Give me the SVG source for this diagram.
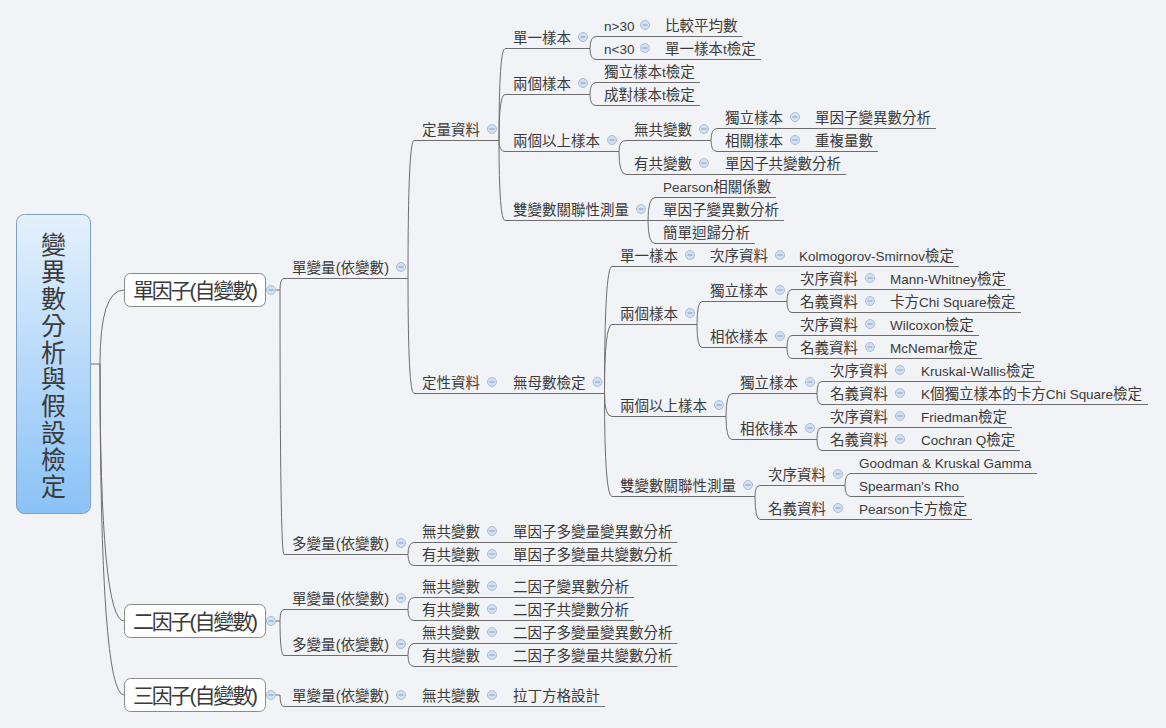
<svg xmlns="http://www.w3.org/2000/svg" xmlns:xlink="http://www.w3.org/1999/xlink" width="1166" height="728" viewBox="0 0 1166 728">
<style>
.t{font-family:"Liberation Sans","Noto Sans CJK TC",sans-serif;font-size:14.5px;fill:#3a3a3a}
.l{font-size:13.5px}
.b{font-family:"Liberation Sans","Noto Sans CJK TC",sans-serif;font-size:21px;fill:#3a3a3a}
.r{font-family:"Noto Sans CJK TC",sans-serif;font-size:25px;fill:#3a3a3a;writing-mode:vertical-rl;letter-spacing:1.9px}
.u{stroke:#6e6e6e;stroke-width:1;fill:none}
#connectors path{stroke:#6e6e6e;stroke-width:1;fill:none}
.box{fill:#fff;stroke:#8a8a8a;stroke-width:1}
</style>
<defs>
<linearGradient id="rg" x1="0" y1="0" x2="0" y2="1">
<stop offset="0" stop-color="#e4f1fd"/>
<stop offset="1" stop-color="#8ac2f6"/>
</linearGradient>
<g id="col"><circle r="4.5" fill="#d3e0f0" stroke="#a6bedb" stroke-width="1"/><path d="M-2.5 0H2.5" stroke="#7f9cc4" stroke-width="1"/></g>
</defs>
<rect width="1166" height="728" fill="#f2f3f7"/>

<g id="connectors">
<path d="M91 364H100"/>
<path d="M100 364Q100 290 124 290"/>
<path d="M100 364Q100 621 124 621"/>
<path d="M100 364Q100 695 124 695"/>
<path d="M275.5 290H280"/>
<path d="M280 290Q280 278.5 284 278.5"/>
<path d="M280 290Q280 554.5 284 554.5"/>
<path d="M275.5 621H280"/>
<path d="M280 621Q280 609.5 284 609.5"/>
<path d="M280 621Q280 655.5 284 655.5"/>
<path d="M275.5 695H280Q280 706.5 284 706.5"/>
<path d="M408 278.5Q408 140.5 414 140.5"/>
<path d="M408 278.5Q408 393.5 414 393.5"/>
<path d="M499 140.5Q499 48.5 505 48.5"/>
<path d="M499 140.5Q499 94.5 505 94.5"/>
<path d="M499 140.5Q499 151.5 505 151.5"/>
<path d="M499 140.5Q499 220.5 505 220.5"/>
<path d="M590 48.5Q590 36.5 596 36.5"/>
<path d="M590 48.5Q590 59.5 596 59.5"/>
<path d="M652 36.5H657"/>
<path d="M652 59.5H657"/>
<path d="M590 94.5Q590 82.5 596 82.5"/>
<path d="M590 94.5Q590 105.5 596 105.5"/>
<path d="M619 151.5Q619 140.5 626 140.5"/>
<path d="M619 151.5Q619 174.5 626 174.5"/>
<path d="M711 140.5Q711 128.5 717 128.5"/>
<path d="M711 140.5Q711 151.5 717 151.5"/>
<path d="M802 128.5H807"/>
<path d="M802 151.5H807"/>
<path d="M711 174.5H717"/>
<path d="M648 220.5Q648 197.5 655 197.5"/>
<path d="M648 220.5H655"/>
<path d="M648 220.5Q648 243.5 655 243.5"/>
<path d="M499 393.5H505"/>
<path d="M604.5 393.5Q604.5 266.5 612 266.5"/>
<path d="M604.5 393.5Q604.5 324.5 612 324.5"/>
<path d="M604.5 393.5Q604.5 416.5 612 416.5"/>
<path d="M604.5 393.5Q604.5 496.5 612 496.5"/>
<path d="M697 266.5H702"/>
<path d="M787 266.5H791"/>
<path d="M697 324.5Q697 301.5 702 301.5"/>
<path d="M697 324.5Q697 347.5 702 347.5"/>
<path d="M787 301.5Q787 289.5 792 289.5"/>
<path d="M787 301.5Q787 312.5 792 312.5"/>
<path d="M877 289.5H882"/>
<path d="M877 312.5H882"/>
<path d="M787 347.5Q787 335.5 792 335.5"/>
<path d="M787 347.5Q787 358.5 792 358.5"/>
<path d="M877 335.5H882"/>
<path d="M877 358.5H882"/>
<path d="M726 416.5Q726 393.5 732 393.5"/>
<path d="M726 416.5Q726 439.5 732 439.5"/>
<path d="M817 393.5Q817 381.5 822 381.5"/>
<path d="M817 393.5Q817 404.5 822 404.5"/>
<path d="M907 381.5H913"/>
<path d="M907 404.5H913"/>
<path d="M817 439.5Q817 427.5 822 427.5"/>
<path d="M817 439.5Q817 450.5 822 450.5"/>
<path d="M907 427.5H913"/>
<path d="M907 450.5H913"/>
<path d="M755 496.5Q755 485.5 760 485.5"/>
<path d="M755 496.5Q755 519.5 760 519.5"/>
<path d="M845 485.5Q845 473.5 851 473.5"/>
<path d="M845 485.5Q845 496.5 851 496.5"/>
<path d="M845 519.5H851"/>
<path d="M408 554.5Q408 542.5 414 542.5"/>
<path d="M408 554.5Q408 565.5 414 565.5"/>
<path d="M499 542.5H505"/>
<path d="M499 565.5H505"/>
<path d="M408 609.5Q408 597.5 414 597.5"/>
<path d="M408 609.5Q408 620.5 414 620.5"/>
<path d="M499 597.5H505"/>
<path d="M499 620.5H505"/>
<path d="M408 655.5Q408 643.5 414 643.5"/>
<path d="M408 655.5Q408 666.5 414 666.5"/>
<path d="M499 643.5H505"/>
<path d="M499 666.5H505"/>
<path d="M408 706.5H414"/>
<path d="M499 706.5H505"/>
</g>

<g id="n-root">
<rect x="16.5" y="214.5" width="74" height="299" rx="8" fill="url(#rg)" stroke="#7d9fc4"/>
<text class="r" x="53.5" y="232">變異數分析與假設檢定</text>
</g>

<g id="n-f1"><rect class="box" x="124.5" y="273.5" width="141" height="33" rx="6"/><text class="b" x="133" y="297.5" textLength="125">單因子(自變數)</text><use href="#col" x="271" y="290"/></g>
<g id="n-f2"><rect class="box" x="124.5" y="604.5" width="141" height="33" rx="6"/><text class="b" x="133" y="628.5" textLength="125">二因子(自變數)</text><use href="#col" x="271" y="621"/></g>
<g id="n-f3"><rect class="box" x="124.5" y="678.5" width="141" height="33" rx="6"/><text class="b" x="133" y="702.5" textLength="125">三因子(自變數)</text><use href="#col" x="271" y="695"/></g>

<g id="n-f1-uni"><path class="u" d="M284 278.5H408"/><text class="t" x="292" y="272.5" textLength="97">單變量(依變數)</text><use href="#col" x="401" y="267"/></g>
<g id="n-quant"><path class="u" d="M414 140.5H499"/><text class="t" x="422" y="134.5">定量資料</text><use href="#col" x="492" y="129"/></g>
<g id="n-q-one"><path class="u" d="M505 48.5H590"/><text class="t" x="513" y="42.5">單一樣本</text><use href="#col" x="583" y="37"/></g>
<g id="n-q-gt30"><path class="u" d="M596 36.5H652"/><text class="t" x="604" y="30.5"><tspan class="l">n&gt;30</tspan></text><use href="#col" x="645" y="25"/></g>
<g id="n-q-gt30-r"><path class="u" d="M657 36.5H742.5"/><text class="t" x="665" y="30.5">比較平均數</text></g>
<g id="n-q-lt30"><path class="u" d="M596 59.5H652"/><text class="t" x="604" y="53.5"><tspan class="l">n&lt;30</tspan></text><use href="#col" x="645" y="48"/></g>
<g id="n-q-lt30-r"><path class="u" d="M657 59.5H761"/><text class="t" x="665" y="53.5">單一樣本<tspan class="l">t</tspan>檢定</text></g>
<g id="n-q-two"><path class="u" d="M505 94.5H590"/><text class="t" x="513" y="88.5">兩個樣本</text><use href="#col" x="583" y="83"/></g>
<g id="n-q-two-ind"><path class="u" d="M596 82.5H700"/><text class="t" x="604" y="76.5">獨立樣本<tspan class="l">t</tspan>檢定</text></g>
<g id="n-q-two-pair"><path class="u" d="M596 105.5H700"/><text class="t" x="604" y="99.5">成對樣本<tspan class="l">t</tspan>檢定</text></g>
<g id="n-q-multi"><path class="u" d="M505 151.5H619"/><text class="t" x="513" y="145.5">兩個以上樣本</text><use href="#col" x="612" y="140"/></g>
<g id="n-q-nocov"><path class="u" d="M626 140.5H711"/><text class="t" x="634" y="134.5">無共變數</text><use href="#col" x="704" y="129"/></g>
<g id="n-q-ind"><path class="u" d="M717 128.5H802"/><text class="t" x="725" y="122.5">獨立樣本</text><use href="#col" x="795" y="117"/></g>
<g id="n-q-ind-r"><path class="u" d="M807 128.5H936"/><text class="t" x="815" y="122.5">單因子變異數分析</text></g>
<g id="n-q-rel"><path class="u" d="M717 151.5H802"/><text class="t" x="725" y="145.5">相關樣本</text><use href="#col" x="795" y="140"/></g>
<g id="n-q-rel-r"><path class="u" d="M807 151.5H878"/><text class="t" x="815" y="145.5">重複量數</text></g>
<g id="n-q-cov"><path class="u" d="M626 174.5H711"/><text class="t" x="634" y="168.5">有共變數</text><use href="#col" x="704" y="163"/></g>
<g id="n-q-cov-r"><path class="u" d="M717 174.5H846"/><text class="t" x="725" y="168.5">單因子共變數分析</text></g>
<g id="n-q-biv"><path class="u" d="M505 220.5H648"/><text class="t" x="513" y="214.5">雙變數關聯性測量</text><use href="#col" x="641" y="209"/></g>
<g id="n-q-biv-1"><path class="u" d="M655 197.5H776"/><text class="t" x="663" y="191.5"><tspan class="l">Pearson</tspan>相關係數</text></g>
<g id="n-q-biv-2"><path class="u" d="M655 220.5H784"/><text class="t" x="663" y="214.5">單因子變異數分析</text></g>
<g id="n-q-biv-3"><path class="u" d="M655 243.5H755"/><text class="t" x="663" y="237.5">簡單迴歸分析</text></g>

<g id="n-qual"><path class="u" d="M414 393.5H499"/><text class="t" x="422" y="387.5">定性資料</text><use href="#col" x="492" y="382"/></g>
<g id="n-np"><path class="u" d="M505 393.5H604.5"/><text class="t" x="513" y="387.5">無母數檢定</text><use href="#col" x="597.5" y="382"/></g>
<g id="n-np-one"><path class="u" d="M612 266.5H697"/><text class="t" x="620" y="260.5">單一樣本</text><use href="#col" x="690" y="255"/></g>
<g id="n-np-one-ord"><path class="u" d="M702 266.5H787"/><text class="t" x="710" y="260.5">次序資料</text><use href="#col" x="780" y="255"/></g>
<g id="n-np-one-ks"><path class="u" d="M791 266.5H959"/><text class="t" x="799" y="260.5"><tspan class="l">Kolmogorov-Smirnov</tspan>檢定</text></g>
<g id="n-np-two"><path class="u" d="M612 324.5H697"/><text class="t" x="620" y="318.5">兩個樣本</text><use href="#col" x="690" y="313"/></g>
<g id="n-np-two-ind"><path class="u" d="M702 301.5H787"/><text class="t" x="710" y="295.5">獨立樣本</text><use href="#col" x="780" y="290"/></g>
<g id="n-np-two-ind-ord"><path class="u" d="M792 289.5H877"/><text class="t" x="800" y="283.5">次序資料</text><use href="#col" x="870" y="278"/></g>
<g id="n-np-two-ind-ord-r"><path class="u" d="M882 289.5H1011"/><text class="t" x="890" y="283.5"><tspan class="l">Mann-Whitney</tspan>檢定</text></g>
<g id="n-np-two-ind-nom"><path class="u" d="M792 312.5H877"/><text class="t" x="800" y="306.5">名義資料</text><use href="#col" x="870" y="301"/></g>
<g id="n-np-two-ind-nom-r"><path class="u" d="M882 312.5H1021"/><text class="t" x="890" y="306.5">卡方<tspan class="l">Chi Square</tspan>檢定</text></g>
<g id="n-np-two-dep"><path class="u" d="M702 347.5H787"/><text class="t" x="710" y="341.5">相依樣本</text><use href="#col" x="780" y="336"/></g>
<g id="n-np-two-dep-ord"><path class="u" d="M792 335.5H877"/><text class="t" x="800" y="329.5">次序資料</text><use href="#col" x="870" y="324"/></g>
<g id="n-np-two-dep-ord-r"><path class="u" d="M882 335.5H979"/><text class="t" x="890" y="329.5"><tspan class="l">Wilcoxon</tspan>檢定</text></g>
<g id="n-np-two-dep-nom"><path class="u" d="M792 358.5H877"/><text class="t" x="800" y="352.5">名義資料</text><use href="#col" x="870" y="347"/></g>
<g id="n-np-two-dep-nom-r"><path class="u" d="M882 358.5H982"/><text class="t" x="890" y="352.5"><tspan class="l">McNemar</tspan>檢定</text></g>
<g id="n-np-k"><path class="u" d="M612 416.5H726"/><text class="t" x="620" y="410.5">兩個以上樣本</text><use href="#col" x="719" y="405"/></g>
<g id="n-np-k-ind"><path class="u" d="M732 393.5H817"/><text class="t" x="740" y="387.5">獨立樣本</text><use href="#col" x="810" y="382"/></g>
<g id="n-np-k-ind-ord"><path class="u" d="M822 381.5H907"/><text class="t" x="830" y="375.5">次序資料</text><use href="#col" x="900" y="370"/></g>
<g id="n-np-k-ind-ord-r"><path class="u" d="M913 381.5H1041"/><text class="t" x="921" y="375.5"><tspan class="l">Kruskal-Wallis</tspan>檢定</text></g>
<g id="n-np-k-ind-nom"><path class="u" d="M822 404.5H907"/><text class="t" x="830" y="398.5">名義資料</text><use href="#col" x="900" y="393"/></g>
<g id="n-np-k-ind-nom-r"><path class="u" d="M913 404.5H1148"/><text class="t" x="921" y="398.5" textLength="221"><tspan class="l">K</tspan>個獨立樣本的卡方<tspan class="l">Chi Square</tspan>檢定</text></g>
<g id="n-np-k-dep"><path class="u" d="M732 439.5H817"/><text class="t" x="740" y="433.5">相依樣本</text><use href="#col" x="810" y="428"/></g>
<g id="n-np-k-dep-ord"><path class="u" d="M822 427.5H907"/><text class="t" x="830" y="421.5">次序資料</text><use href="#col" x="900" y="416"/></g>
<g id="n-np-k-dep-ord-r"><path class="u" d="M913 427.5H1012"/><text class="t" x="921" y="421.5"><tspan class="l">Friedman</tspan>檢定</text></g>
<g id="n-np-k-dep-nom"><path class="u" d="M822 450.5H907"/><text class="t" x="830" y="444.5">名義資料</text><use href="#col" x="900" y="439"/></g>
<g id="n-np-k-dep-nom-r"><path class="u" d="M913 450.5H1020"/><text class="t" x="921" y="444.5"><tspan class="l">Cochran Q</tspan>檢定</text></g>
<g id="n-np-biv"><path class="u" d="M612 496.5H755"/><text class="t" x="620" y="490.5">雙變數關聯性測量</text><use href="#col" x="748" y="485"/></g>
<g id="n-np-biv-ord"><path class="u" d="M760 485.5H845"/><text class="t" x="768" y="479.5">次序資料</text><use href="#col" x="838" y="474"/></g>
<g id="n-np-biv-ord-1"><path class="u" d="M851 473.5H1037"/><text class="t" x="859" y="467.5"><tspan class="l">Goodman &amp; Kruskal Gamma</tspan></text></g>
<g id="n-np-biv-ord-2"><path class="u" d="M851 496.5H964"/><text class="t" x="859" y="490.5"><tspan class="l">Spearman's Rho</tspan></text></g>
<g id="n-np-biv-nom"><path class="u" d="M760 519.5H845"/><text class="t" x="768" y="513.5">名義資料</text><use href="#col" x="838" y="508"/></g>
<g id="n-np-biv-nom-r"><path class="u" d="M851 519.5H972"/><text class="t" x="859" y="513.5"><tspan class="l">Pearson</tspan>卡方檢定</text></g>

<g id="n-f1-multi"><path class="u" d="M284 554.5H408"/><text class="t" x="292" y="548.5" textLength="97">多變量(依變數)</text><use href="#col" x="401" y="543"/></g>
<g id="n-f1-m-nocov"><path class="u" d="M414 542.5H499"/><text class="t" x="422" y="536.5">無共變數</text><use href="#col" x="492" y="531"/></g>
<g id="n-f1-m-nocov-r"><path class="u" d="M505 542.5H677.5"/><text class="t" x="513" y="536.5">單因子多變量變異數分析</text></g>
<g id="n-f1-m-cov"><path class="u" d="M414 565.5H499"/><text class="t" x="422" y="559.5">有共變數</text><use href="#col" x="492" y="554"/></g>
<g id="n-f1-m-cov-r"><path class="u" d="M505 565.5H677.5"/><text class="t" x="513" y="559.5">單因子多變量共變數分析</text></g>

<g id="n-f2-uni"><path class="u" d="M284 609.5H408"/><text class="t" x="292" y="603.5" textLength="97">單變量(依變數)</text><use href="#col" x="401" y="598"/></g>
<g id="n-f2-u-nocov"><path class="u" d="M414 597.5H499"/><text class="t" x="422" y="591.5">無共變數</text><use href="#col" x="492" y="586"/></g>
<g id="n-f2-u-nocov-r"><path class="u" d="M505 597.5H634"/><text class="t" x="513" y="591.5">二因子變異數分析</text></g>
<g id="n-f2-u-cov"><path class="u" d="M414 620.5H499"/><text class="t" x="422" y="614.5">有共變數</text><use href="#col" x="492" y="609"/></g>
<g id="n-f2-u-cov-r"><path class="u" d="M505 620.5H634"/><text class="t" x="513" y="614.5">二因子共變數分析</text></g>
<g id="n-f2-multi"><path class="u" d="M284 655.5H408"/><text class="t" x="292" y="649.5" textLength="97">多變量(依變數)</text><use href="#col" x="401" y="644"/></g>
<g id="n-f2-m-nocov"><path class="u" d="M414 643.5H499"/><text class="t" x="422" y="637.5">無共變數</text><use href="#col" x="492" y="632"/></g>
<g id="n-f2-m-nocov-r"><path class="u" d="M505 643.5H677.5"/><text class="t" x="513" y="637.5">二因子多變量變異數分析</text></g>
<g id="n-f2-m-cov"><path class="u" d="M414 666.5H499"/><text class="t" x="422" y="660.5">有共變數</text><use href="#col" x="492" y="655"/></g>
<g id="n-f2-m-cov-r"><path class="u" d="M505 666.5H677.5"/><text class="t" x="513" y="660.5">二因子多變量共變數分析</text></g>

<g id="n-f3-uni"><path class="u" d="M284 706.5H408"/><text class="t" x="292" y="700.5" textLength="97">單變量(依變數)</text><use href="#col" x="401" y="695"/></g>
<g id="n-f3-u-nocov"><path class="u" d="M414 706.5H499"/><text class="t" x="422" y="700.5">無共變數</text><use href="#col" x="492" y="695"/></g>
<g id="n-f3-u-nocov-r"><path class="u" d="M505 706.5H605"/><text class="t" x="513" y="700.5">拉丁方格設計</text></g>
</svg>
